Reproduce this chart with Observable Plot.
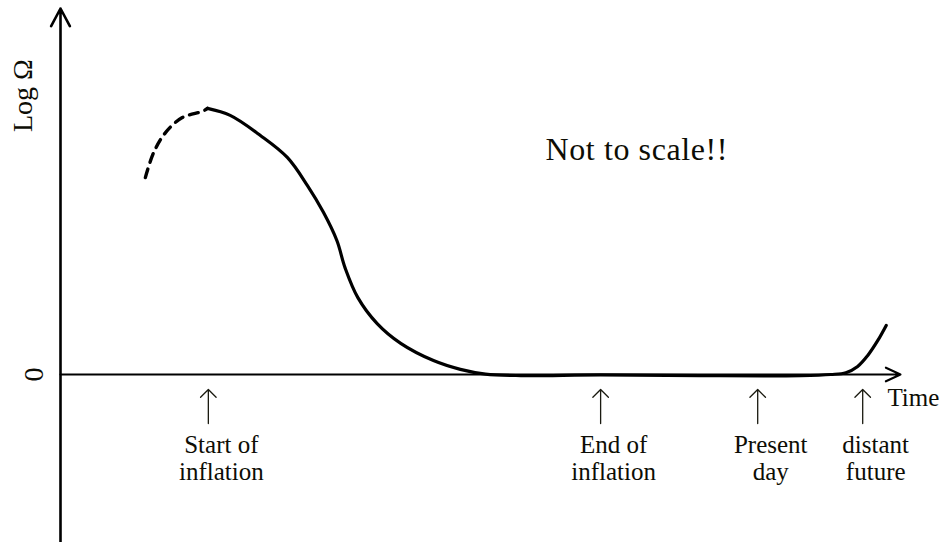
<!DOCTYPE html>
<html><head><meta charset="utf-8">
<style>html,body{margin:0;padding:0;background:#fff;} svg{display:block;}</style>
<script src="https://cdn.jsdelivr.net/npm/d3@7"></script>
<script src="https://cdn.jsdelivr.net/npm/@observablehq/plot@0.6"></script>
</head><body><div id="chart"></div>
<script>
// Speculative early-universe part (dashed)
const dashTime = [10.1, 11.1, 12.5, 14.5, 16.9, 17.5];
const dashLogOmega = [5.38, 6.07, 6.61, 7.02, 7.19, 7.27];
// Main evolution (solid)
const solidTime = [17.5, 20.2, 23.8, 27.0, 29.4, 31.3, 32.9, 33.9, 35.4, 37.7, 40.5, 44.4, 47.6, 50.6, 54.8, 64.3, 76.2, 88.1, 91.7, 93.5, 94.9, 96.1, 97.3, 98.3];
const solidLogOmega = [7.27, 7.08, 6.53, 5.93, 5.16, 4.43, 3.66, 2.90, 2.10, 1.39, 0.85, 0.38, 0.14, 0.01, -0.03, -0.01, -0.03, -0.03, 0.0, 0.05, 0.22, 0.52, 0.93, 1.34];
// Epoch markers
const eventTimes = [17.6, 64.3, 83.0, 95.5];
const eventLabels = ["Start of\ninflation", "End of\ninflation", "Present\nday", "distant\nfuture"];
// Axis extents
const timeExtent = [0, 100];
const logOmegaExtent = [-4.59, 10];

const font = "'Liberation Serif', 'Times New Roman', 'DejaVu Serif', serif";
const ink = "#0d0d05";
const dashed = dashTime.map((t, i) => ({t, v: dashLogOmega[i]}));
const solid = solidTime.map((t, i) => ({t, v: solidLogOmega[i]}));

const chart = Plot.plot({
  width: 945,
  height: 542,
  style: {fontFamily: font, background: "#fff", overflow: "visible"},
  x: {domain: [0, 100], range: [60, 900], axis: null},
  y: {domain: [0, 10], range: [374, 8], axis: null},
  marks: [
    // y axis
    Plot.arrow([0], {x1: () => timeExtent[0], x2: () => timeExtent[0], y1: () => logOmegaExtent[0], y2: () => logOmegaExtent[1],
      stroke: "#000", strokeWidth: 2.6, headLength: 11.5, headAngle: 56}),
    // x axis
    Plot.arrow([0], {x1: () => timeExtent[0], x2: () => timeExtent[1], y1: () => 0, y2: () => 0,
      stroke: "#000", strokeWidth: 2.1, headLength: 11.5, headAngle: 50}),
    Plot.line(dashed, {x: "t", y: "v", curve: "catmull-rom", stroke: "#000", strokeWidth: 3.4, strokeDasharray: "9,7"}),
    Plot.line(solid, {x: "t", y: "v", curve: "catmull-rom", stroke: "#000", strokeWidth: 3.2}),
    Plot.vector(eventTimes, {x: d => d, y: () => -1.34, length: 34, rotate: 0, anchor: "start", r: 4,
      stroke: "#1a1a10", strokeWidth: 1.3}),
    Plot.text(eventLabels, {x: (d, i) => eventTimes[i], y: () => -2.87, text: d => d, dx: 13,
      lineAnchor: "bottom", lineHeight: 1.08, fontSize: 25, fill: ink, textAnchor: "middle"}),
    Plot.text(["Not to scale!!"], {x: () => 57.74, y: () => 5.85, text: d => d, textAnchor: "start",
      lineAnchor: "bottom", fontSize: 32, fill: ink}),
    Plot.text(["Time"], {x: () => 98.45, y: () => -0.85, text: d => d, textAnchor: "start",
      lineAnchor: "bottom", fontSize: 25, fill: ink}),
    Plot.text(["Log Ω"], {x: () => -4.52, y: () => 7.62, text: d => d, rotate: -90, fontSize: 28, fill: ink}),
    Plot.text(["0"], {x: () => -3.1, y: () => 0, text: d => d, rotate: -90, fontSize: 28, fill: ink})
  ]
});
d3.select(chart).selectAll("text").filter(function() { return this.textContent === "Not to scale!!"; })
  .style("letter-spacing", "0.6px");
document.getElementById("chart").appendChild(chart);
</script>
</body></html>
